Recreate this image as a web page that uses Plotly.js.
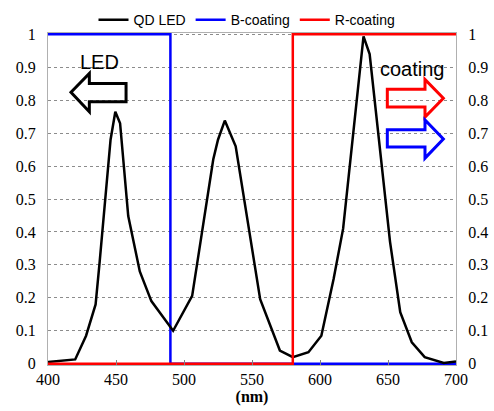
<!DOCTYPE html>
<html><head><meta charset="utf-8">
<script src="https://cdn.plot.ly/plotly-3.0.1.min.js"></script>
<style>html,body{margin:0;padding:0;background:#fff}#chart{width:494px;height:411px}</style>
</head><body><div id="chart"></div>
<script>
// QD LED spectrum (nm, normalized intensity)
const wavelength = [400, 420, 428, 435, 438, 446, 449.5, 453, 459, 467.5, 476, 492, 506, 521.5, 525, 530, 538, 556, 570.5, 580, 591.5, 601, 610, 617, 632, 636.5, 651.5, 659, 667.5, 677, 691, 700];
const qdLed = [0.005, 0.013, 0.085, 0.18, 0.31, 0.68, 0.765, 0.73, 0.448, 0.28, 0.19, 0.10, 0.206, 0.62, 0.68, 0.738, 0.66, 0.196, 0.04, 0.02, 0.035, 0.085, 0.257, 0.41, 0.994, 0.94, 0.37, 0.156, 0.065, 0.02, 0.002, 0.007];
// B-coating step
const bX = [400, 490, 490, 700];
const bY = [1, 1, 0, 0];
// R-coating step
const rX = [400, 580, 580, 700];
const rY = [0, 0, 1, 1];
const xTicks = [400, 450, 500, 550, 600, 650, 700];
const yTicks = [0, 0.1, 0.2, 0.3, 0.4, 0.5, 0.6, 0.7, 0.8, 0.9, 1];

const traces = [
  {x: bX, y: bY, name: 'B-coating', mode: 'lines', line: {color: '#0000ff', width: 2.5}, legendrank: 2},
  {x: rX, y: rY, name: 'R-coating', mode: 'lines', yaxis: 'y2', line: {color: '#ff0000', width: 2.5}, legendrank: 3},
  {x: wavelength, y: qdLed, name: 'QD LED', mode: 'lines', line: {color: '#000000', width: 2.5}, legendrank: 1}
];

const serifFam = 'Times New Roman, Liberation Serif, DejaVu Serif, serif';
const sansFam = 'Liberation Sans, Arial, sans-serif';
const yr = [-0.004, 1.004];
function axisY(extra){
  return Object.assign({
    range: yr, tickvals: yTicks, ticktext: yTicks.map(v => String(v)),
    showgrid: true, gridcolor: '#8c8c8c', griddash: 'dot', gridwidth: 1,
    zeroline: false, showline: true, linecolor: '#b0b0b0', linewidth: 1,
    ticks: '', tickfont: {family: serifFam, size: 16, color: '#000'}, fixedrange: true,
    ticklabelstandoff: 8
  }, extra);
}

function arrowPath(pts){ return 'M' + pts.map(p => p[0] + ',' + p[1]).join(' L') + ' Z'; }

const ledArrow = [[416.9,0.824],[430.4,0.881],[430.4,0.851],[457.4,0.851],[457.4,0.795],[430.4,0.795],[430.4,0.765]];
const redArrow = [[649.5,0.833],[677.2,0.833],[677.2,0.863],[690.7,0.806],[677.2,0.749],[677.2,0.779],[649.5,0.779]];
const blueArrow = [[649.5,0.710],[677.2,0.710],[677.2,0.740],[690.7,0.682],[677.2,0.624],[677.2,0.658],[649.5,0.658]];

const layout = {
  width: 494, height: 411,
  font: {family: serifFam, size: 16, color: '#000'},
  margin: {l: 48, r: 38, t: 33, b: 46, autoexpand: false},
  paper_bgcolor: '#fff', plot_bgcolor: '#fff',
  showlegend: true,
  legend: {orientation: 'h', x: 0.5, xanchor: 'center', xref: 'container', y: 0.99, yanchor: 'top', yref: 'container',
    font: {family: sansFam, size: 14, color: '#000'},
    itemwidth: 30, tracegroupgap: 0, bgcolor: 'rgba(0,0,0,0)'},
  xaxis: {
    range: [400, 700], tickvals: xTicks, showgrid: false, zeroline: false,
    showline: true, mirror: true, linecolor: '#b0b0b0', linewidth: 1,
    ticks: 'inside', ticklen: 5, tickcolor: '#808080', tickfont: {family: serifFam, size: 16, color: '#000'},
    title: {text: '<b>(nm)</b>', font: {family: serifFam, size: 16, color: '#000'}, standoff: 2}, fixedrange: true
  },
  yaxis: axisY({side: 'left'}),
  yaxis2: axisY({overlaying: 'y', side: 'right', showgrid: false}),
  shapes: [
    {type: 'path', xref: 'x', yref: 'y', path: arrowPath(ledArrow), line: {color: '#000', width: 3}, fillcolor: 'rgba(0,0,0,0)'},
    {type: 'path', xref: 'x', yref: 'y', path: arrowPath(redArrow), line: {color: '#ff0000', width: 3}, fillcolor: 'rgba(0,0,0,0)'},
    {type: 'path', xref: 'x', yref: 'y', path: arrowPath(blueArrow), line: {color: '#0000ff', width: 3}, fillcolor: 'rgba(0,0,0,0)'}
  ],
  annotations: [
    {text: 'LED', x: 438, y: 0.915, xref: 'x', yref: 'y', showarrow: false,
     font: {family: sansFam, size: 20, color: '#000'}},
    {text: 'coating', x: 668, y: 0.895, xref: 'x', yref: 'y', showarrow: false,
     font: {family: sansFam, size: 20, color: '#000'}}
  ]
};

Plotly.newPlot('chart', traces, layout, {displayModeBar: false, staticPlot: true});
</script>
</body></html>
